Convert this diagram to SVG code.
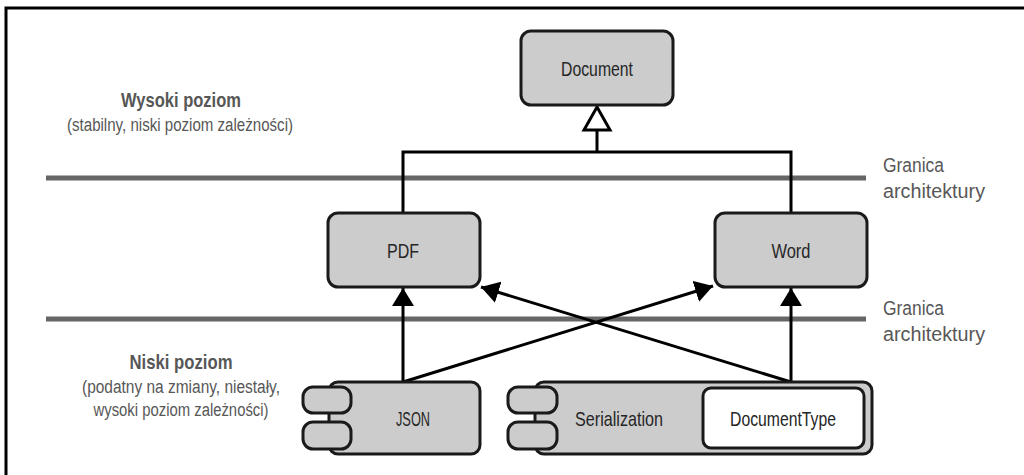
<svg xmlns="http://www.w3.org/2000/svg" width="1024" height="475" viewBox="0 0 1024 475">
  <style>
    .box { fill: #cccccc; stroke: #1a1a1a; stroke-width: 3; }
    .inner { fill: #ffffff; stroke: #1a1a1a; stroke-width: 3; }
    .lbl { font-family: "Liberation Sans", Arial, sans-serif; font-size: 21px; fill: #262626; text-anchor: middle; }
    .side { font-family: "Liberation Sans", Arial, sans-serif; font-size: 20px; fill: #575757; }
    .head { font-family: "Liberation Sans", Arial, sans-serif; font-size: 21px; font-weight: bold; fill: #575757; text-anchor: middle; }
    .sub { font-family: "Liberation Sans", Arial, sans-serif; font-size: 18px; fill: #575757; text-anchor: middle; }
    .bound { stroke: #666666; stroke-width: 5; fill: none; }
    .conn { stroke: #000000; stroke-width: 3; fill: none; }
  </style>
  <defs>
    <marker id="arrow" markerUnits="userSpaceOnUse" markerWidth="20" markerHeight="22" viewBox="0 0 20 22" refX="18" refY="11" orient="auto">
      <path d="M0,0 L18,11 L0,22 Z" fill="#000000"/>
    </marker>
  </defs>

  <g id="frame">
    <path d="M6,475 V8 H1024" fill="none" stroke="#000000" stroke-width="3"/>
  </g>

  <g id="boundaries">
    <line class="bound" x1="46" y1="178" x2="866" y2="178"/>
    <line class="bound" x1="46" y1="319" x2="866" y2="319"/>
    <text class="side" x="883" y="172" textLength="61" lengthAdjust="spacingAndGlyphs">Granica</text>
    <text class="side" x="883" y="198" textLength="102" lengthAdjust="spacingAndGlyphs">architektury</text>
    <text class="side" x="883" y="315" textLength="61" lengthAdjust="spacingAndGlyphs">Granica</text>
    <text class="side" x="883" y="341" textLength="102" lengthAdjust="spacingAndGlyphs">architektury</text>
  </g>

  <g id="label-high">
    <text class="head" x="181" y="107" textLength="120" lengthAdjust="spacingAndGlyphs">Wysoki poziom</text>
    <text class="sub" x="180" y="131" textLength="226" lengthAdjust="spacingAndGlyphs">(stabilny, niski poziom zależności)</text>
  </g>

  <g id="label-low">
    <text class="head" x="181" y="369" textLength="103" lengthAdjust="spacingAndGlyphs">Niski poziom</text>
    <text class="sub" x="181" y="393" textLength="198" lengthAdjust="spacingAndGlyphs">(podatny na zmiany, niestały,</text>
    <text class="sub" x="181" y="416" textLength="175" lengthAdjust="spacingAndGlyphs">wysoki poziom zależności)</text>
  </g>

  <g id="connectors">
    <path class="conn" d="M403,213 V152 H791 V213"/>
    <path class="conn" d="M597,152 V130"/>
    <path d="M597,107 L610,130 L584,130 Z" fill="#ffffff" stroke="#000000" stroke-width="3" stroke-linejoin="miter"/>
    <path class="conn" d="M403,382 V288" marker-end="url(#arrow)"/>
    <path class="conn" d="M791,382 V288" marker-end="url(#arrow)"/>
    <path class="conn" d="M403,382 L713,286" marker-end="url(#arrow)"/>
    <path class="conn" d="M791,382 L481,287" marker-end="url(#arrow)"/>
  </g>

  <g id="node-document">
    <rect class="box" x="521" y="31" width="152" height="74" rx="10"/>
    <text class="lbl" x="597" y="76" textLength="72" lengthAdjust="spacingAndGlyphs">Document</text>
  </g>

  <g id="node-pdf">
    <rect class="box" x="328" y="213" width="152" height="74" rx="10"/>
    <text class="lbl" x="403" y="258" textLength="32" lengthAdjust="spacingAndGlyphs">PDF</text>
  </g>

  <g id="node-word">
    <rect class="box" x="715" y="213" width="152" height="74" rx="10"/>
    <text class="lbl" x="791" y="258" textLength="39" lengthAdjust="spacingAndGlyphs">Word</text>
  </g>

  <g id="node-json">
    <rect class="box" x="329" y="382" width="151" height="72" rx="9"/>
    <rect class="box" x="303" y="387" width="48" height="26" rx="10"/>
    <rect class="box" x="303" y="422" width="48" height="27" rx="10"/>
    <text class="lbl" x="413" y="426" textLength="34" lengthAdjust="spacingAndGlyphs">JSON</text>
  </g>

  <g id="node-serialization">
    <rect class="box" x="535" y="382" width="337" height="72" rx="9"/>
    <rect class="box" x="508" y="387" width="49" height="26" rx="10"/>
    <rect class="box" x="508" y="422" width="49" height="27" rx="10"/>
    <text class="lbl" x="619" y="426" textLength="88" lengthAdjust="spacingAndGlyphs">Serialization</text>
    <g id="node-documenttype">
      <rect class="inner" x="703" y="388" width="161" height="60" rx="8"/>
      <text class="lbl" x="783" y="426" textLength="106" lengthAdjust="spacingAndGlyphs">DocumentType</text>
    </g>
  </g>
</svg>
